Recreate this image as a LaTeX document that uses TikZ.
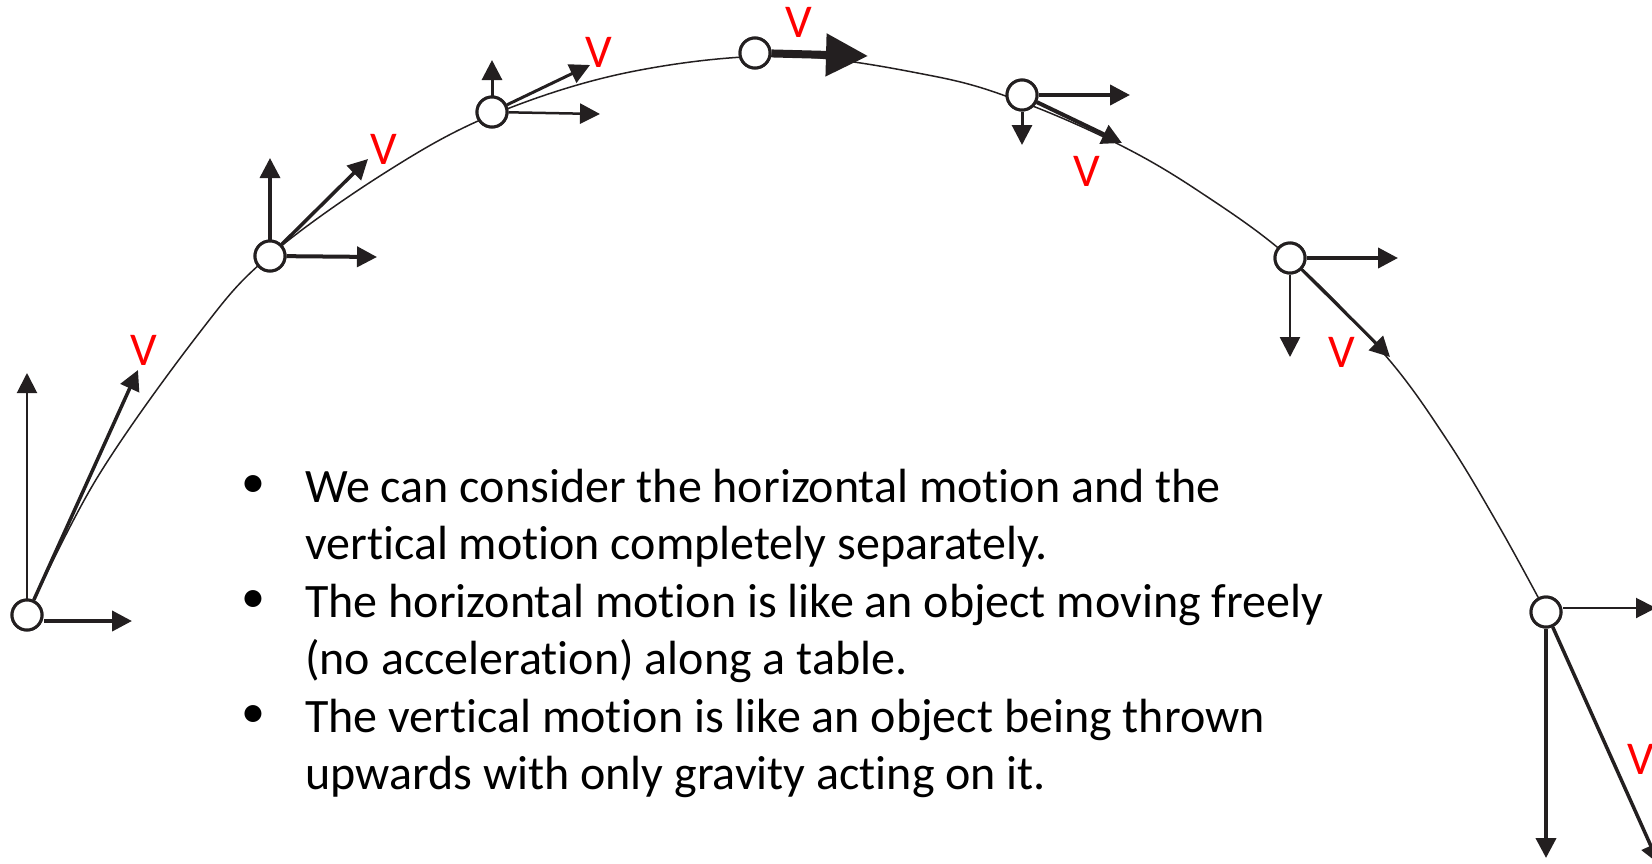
\documentclass[tikz,border=0pt]{standalone}
\usepackage{fontspec}
\setmainfont{Carlito}[Ligatures=NoCommon]
\usetikzlibrary{arrows.meta}
\definecolor{ink}{HTML}{231F20}
\begin{document}
\begin{tikzpicture}[x=1pt,y=-1pt,
  ball/.style={circle, draw=ink, fill=white, line width=3pt, minimum size=30pt, inner sep=0pt},
  vec/.style={draw=ink, line width=#1, -{Triangle[length=20pt,width=20pt]}},
  bigvec/.style={draw=ink, line width=#1, -{Triangle[length=42pt,width=41pt]}},
  path/.style={draw=ink, line width=1.5pt},
  lbl/.style={text=red, font=\fontsize{47}{47}\selectfont, inner sep=0pt},
  txt/.style={text=black, font=\fontsize{48}{57}\selectfont, inner sep=0pt, anchor=base west},
  bul/.style={text=black, font=\fontsize{48}{57}\selectfont, inner sep=0pt}
]
\path[use as bounding box] (0,0) rectangle (1652,863);
\clip (0,0) rectangle (1652,863);

% trajectory
\draw[path] plot[smooth, tension=0.6] coordinates {
 (27,615) (97,478) (200,332) (268,257) (383,174) (492,115) (630,72) (785,56)
 (933,76) (1022,102) (1120,145) (1200,192) (1290,258) (1385,355) (1447,440)
 (1500,528) (1546,612)};

% balls
\node[ball] (b1) at (27,615) {};
\node[ball] (b2) at (270,256) {};
\node[ball] (b3) at (492,112) {};
\node[ball] (b4) at (755,53) {};
\node[ball] (b5) at (1022,95) {};
\node[ball] (b6) at (1290,258) {};
\node[ball] (b7) at (1546,612) {};

% tips
\coordinate (b1u) at (27,373);
\coordinate (b1r) at (132,621);
\coordinate (b1v) at (138,370);
\coordinate (b2u) at (270,158);
\coordinate (b2r) at (377,257);
\coordinate (b2v) at (368,159);
\coordinate (b3u) at (492,60);
\coordinate (b3r) at (600,114);
\coordinate (b3v) at (590,65);
\coordinate (b4r) at (868,56);
\coordinate (b5r) at (1130,95);
\coordinate (b5d) at (1022,145);
\coordinate (b5v) at (1122,143);
\coordinate (b6r) at (1398,258);
\coordinate (b6d) at (1290,357);
\coordinate (b6v) at (1390,357);
\coordinate (b7r) at (1656,608);
\coordinate (b7d) at (1546,858);
\coordinate (b7v) at (1659,864);

% vectors
\draw[vec=2pt] (b1) -- (b1u);
\draw[vec=4pt] (b1r -| b1.east) -- (b1r);
\draw[vec=3.5pt] (b1) -- (b1v);

\draw[vec=3.5pt] (b2) -- (b2u);
\draw[vec=4pt] (b2) -- (b2r);
\draw[vec=3.5pt] (b2) -- (b2v);

\draw[vec=3pt] (b3) -- (b3u);
\draw[vec=2.5pt] (b3) -- (b3r);
\draw[vec=3pt] (b3) -- (b3v);

\draw[bigvec=8pt] (b4) -- (b4r);

\draw[vec=4pt] (b5) -- (b5r);
\draw[vec=3pt] (b5) -- (b5d);
\draw[vec=4pt] (b5) -- (b5v);

\draw[vec=4pt] (b6) -- (b6r);
\draw[vec=2.5pt] (b6) -- (b6d);
\draw[vec=3pt] (b6) -- (b6v);

\draw[vec=2pt] (b7r -| b7.east) -- (b7r);
\draw[vec=4pt] (b7) -- (b7d);
\draw[vec=3.5pt] (b7) -- (b7v);

% redraw balls on top
\foreach \b in {b1,b2,b3,b4,b5,b6,b7} {\node[ball] at (\b) {};}

% labels
\node[lbl] (v1) at (144,350) {V};
\node[lbl] (v2) at (384,149) {V};
\node[lbl] (v3) at (599,52) {V};
\node[lbl] (v4) at (799,22) {V};
\node[lbl] (v5) at (1087,171) {V};
\node[lbl] (v6) at (1342,352) {V};
\node[lbl] (v7) at (1641,759) {V};

% text
\node[bul] (p1) at (253,487) {•};
\node[bul] (p2) at (253,602) {•};
\node[bul] (p3) at (253,717) {•};
\node[txt] (t1) at (305,502) {We can consider the horizontal motion and the};
\node[txt] (t2) at (305,559.5) {vertical motion completely separately.};
\node[txt] (t3) at (305,617) {The horizontal motion is like an object moving freely};
\node[txt] (t4) at (305,674.5) {(no acceleration) along a table.};
\node[txt] (t5) at (305,732) {The vertical motion is like an object being thrown};
\node[txt] (t6) at (305,789.5) {upwards with only gravity acting on it.};
\end{tikzpicture}
\end{document}
